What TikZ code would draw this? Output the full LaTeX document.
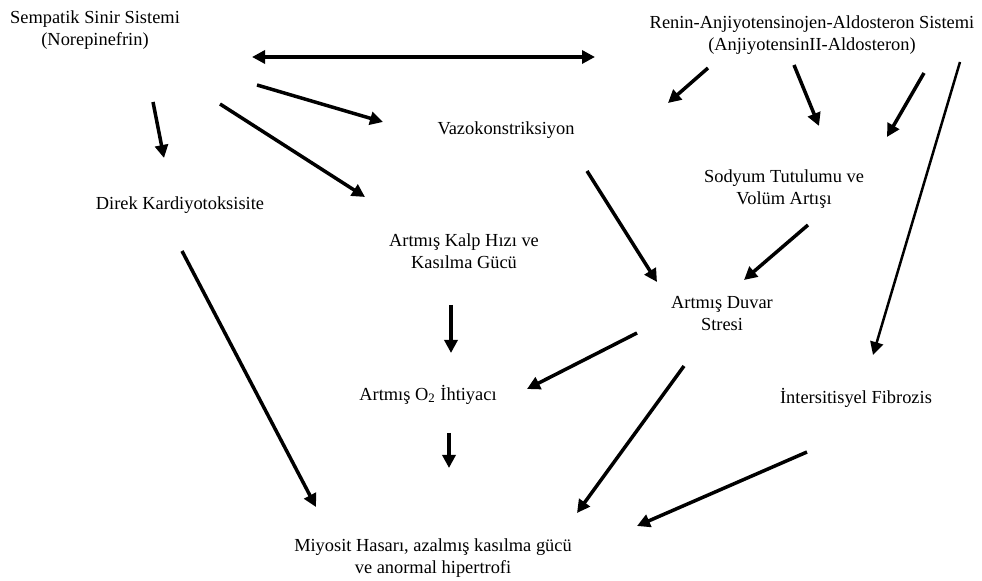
\documentclass[tikz,border=0pt]{standalone}
\usepackage{fontspec}
\setmainfont{Liberation Serif}
\usetikzlibrary{arrows.meta}

\begin{document}
\begin{tikzpicture}[x=0.5pt,y=-0.5pt]
      \useasboundingbox (0,0) rectangle (982,581);
      \begin{scope}[every node/.style={align=center,inner sep=0pt,font=\fontsize{9.2}{11}\selectfont}]
        \node (1) at (95,30) {Sempatik Sinir Sistemi\\(Norepinefrin)};
        \node (2) at (812,35) {Renin-Anjiyotensinojen-Aldosteron Sistemi\\(AnjiyotensinII-Aldosteron)};
        \node (3) at (506,130) {Vazokonstriksiyon};
        \node (4) at (180,205) {Direk Kardiyotoksisite};
        \node (5) at (464,251) {Artmış Kalp Hızı ve\\Kasılma Gücü};
        \node (6) at (784,189) {Sodyum Tutulumu ve\\Volüm Artışı};
        \node (7) at (722,314) {Artmış Duvar\\Stresi};
        \node (8) at (428,395) {Artmış O\textsubscript{2} İhtiyacı};
        \node (9) at (856,398) {İntersitisyel Fibrozis};
        \node (10) at (433,558) {Miyosit Hasarı, azalmış kasılma gücü\\ve anormal hipertrofi};
      \end{scope}
      % arrow ends
      \coordinate (p1) at (252,57);   \coordinate (q1) at (595,57);
      \coordinate (p2) at (257,85);   \coordinate (q2) at (383,122);
      \coordinate (p3) at (153,102);  \coordinate (q3) at (164,158);
      \coordinate (p4) at (220,104);  \coordinate (q4) at (365,197);
      \coordinate (p5) at (708,68);   \coordinate (q5) at (668,103);
      \coordinate (p6) at (794,65);   \coordinate (q6) at (819,126);
      \coordinate (p7) at (924,73);   \coordinate (q7) at (887,137);
      \coordinate (p8) at (960,62);   \coordinate (q8) at (873,355);
      \coordinate (p9) at (587,171);  \coordinate (q9) at (657,282);
      \coordinate (p10) at (808,225); \coordinate (q10) at (744,280);
      \coordinate (p11) at (451,305); \coordinate (q11) at (451,353);
      \coordinate (p12) at (637,333); \coordinate (q12) at (527,389);
      \coordinate (p13) at (182,251); \coordinate (q13) at (316,507);
      \coordinate (p14) at (449,433); \coordinate (q14) at (449,468);
      \coordinate (p15) at (684,366); \coordinate (q15) at (577,513);
      \coordinate (p16) at (807,452); \coordinate (q16) at (637,526);
      \begin{scope}[every edge/.style={draw,line width=1.75pt,-{Triangle[length=6.5pt,width=6.5pt]}}]
        \path (p1) edge[{Triangle[length=6.5pt,width=6.5pt]}-{Triangle[length=6.5pt,width=6.5pt]}] (q1);
        \path (p2) edge (q2);
        \path (p3) edge (q3);
        \path (p4) edge (q4);
        \path (p5) edge (q5);
        \path (p6) edge (q6);
        \path (p7) edge (q7);
        \path (p8) edge[line width=1.25pt] (q8);
        \path (p9) edge (q9);
        \path (p10) edge (q10);
        \path (p11) edge (q11);
        \path (p12) edge (q12);
        \path (p13) edge (q13);
        \path (p14) edge (q14);
        \path (p15) edge (q15);
        \path (p16) edge (q16);
      \end{scope}
    \end{tikzpicture}
\end{document}
